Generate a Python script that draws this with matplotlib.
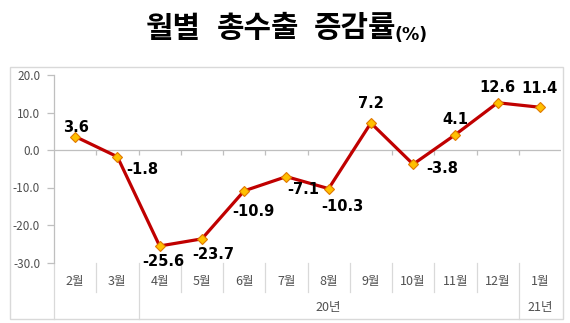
import matplotlib
matplotlib.use('Agg')
import matplotlib.pyplot as plt
from matplotlib.patches import Rectangle

# Monthly export growth rate (%), Feb 2020 - Jan 2021
months = ['2월', '3월', '4월', '5월', '6월', '7월', '8월', '9월', '10월', '11월', '12월', '1월']
values = [3.6, -1.8, -25.6, -23.7, -10.9, -7.1, -10.3, 7.2, -3.8, 4.1, 12.6, 11.4]
years = ['20년', '21년']
title_words = ['월별', '총수출', '증감률']
title_unit = '(%)'
yticks = [-30, -20, -10, 0, 10, 20]

# label placement (pixel offsets from each point)
label_offsets = [(1, 9), (25, -13), (4, -16), (11, -16), (9, -21), (17, -13),
                 (14, -18), (0, 19), (29, -4), (0, 15), (0, 15), (0, 19)]

W, H = 570, 323
fig = plt.figure(figsize=(W / 100, H / 100), dpi=100)
fig.patch.set_facecolor('white')

def fx(px):
    return px / W

def fy(py):
    return 1 - py / H

KR = 'Noto Sans CJK KR'
GRID = '#BFBFBF'
TXT = '#505050'

# outer chart frame
fig.patches.append(Rectangle((fx(10), fy(319)), fx(563) - fx(10), fy(67) - fy(319),
                             transform=fig.transFigure, fill=False,
                             edgecolor='#D9D9D9', lw=1.0))

# title
title_x = [146, 217, 314]
for word, x in zip(title_words, title_x):
    fig.text(fx(x), fy(28.5), word, fontsize=21.5, fontweight='bold',
             family=KR, ha='left', va='center', color='black')
fig.text(fx(394), fy(35), title_unit, fontsize=12.5, fontweight='bold',
         family='DejaVu Sans', ha='left', va='center', color='black')

ax = fig.add_axes([fx(54), fy(262.5), fx(561) - fx(54), fy(75) - fy(262.5)])
n = len(months)
xs = list(range(n))
ax.set_xlim(-0.5, n - 0.5)
ax.set_ylim(-30, 20)

for s in ['top', 'right', 'bottom']:
    ax.spines[s].set_visible(False)
ax.spines['left'].set_color(GRID)
ax.spines['left'].set_linewidth(0.9)

ax.set_yticks(yticks)
ax.set_yticklabels([f'{v:.1f}' for v in yticks], family=KR)
ax.tick_params(axis='y', direction='out', length=5, width=0.9, color=GRID,
               labelsize=8.5, labelcolor=TXT, pad=5)
ax.set_xticks([])

# zero line with small boundary ticks
ax.axhline(0, color=GRID, lw=0.9, zorder=1)
bounds = [i + 0.5 for i in range(n - 1)]
ax.vlines(bounds, -1.3, 0, color=GRID, lw=0.9, zorder=1)

# data series
ax.plot(xs, values, color='#C00000', lw=2.3, marker='D', ms=5,
        mfc='#FFC000', mec='#E07800', mew=0.8, zorder=3, clip_on=False)

for x, v, (dx, dy) in zip(xs, values, label_offsets):
    ax.annotate(f'{v:.1f}', (x, v), xytext=(dx, dy), textcoords='offset pixels',
                ha='center', va='center', fontsize=10.5, fontweight='bold',
                family='DejaVu Sans', color='black', zorder=4)

# category table below the plot
xt = ax.get_xaxis_transform()
short_bottom = -(292 - 262.5) / 187.5
long_bottom = -(319 - 262.5) / 187.5
long_bounds = [-0.5, 1.5, 10.5]
for b in bounds:
    if b in long_bounds:
        continue
    ax.plot([b, b], [0, short_bottom], transform=xt, color='#D9D9D9', lw=0.9, clip_on=False)
for b in long_bounds:
    ax.plot([b, b], [0, long_bottom], transform=xt, color='#D9D9D9', lw=0.9, clip_on=False)

month_y = -(281 - 262.5) / 187.5
year_y = -(308 - 262.5) / 187.5
for x, m in zip(xs, months):
    ax.text(x, month_y, m, transform=xt, ha='center', va='center',
            fontsize=9, family=KR, color=TXT)
ax.text((1.5 + 10.5) / 2, year_y, years[0], transform=xt, ha='center', va='center',
        fontsize=9, family=KR, color=TXT)
ax.text(11, year_y, years[1], transform=xt, ha='center', va='center',
        fontsize=9, family=KR, color=TXT)

fig.savefig('out.png', dpi=100, facecolor='white')
